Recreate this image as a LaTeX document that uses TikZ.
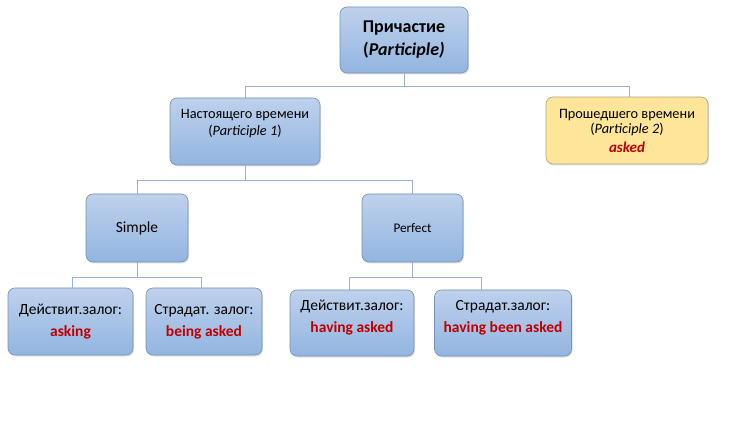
\documentclass[tikz,border=0pt]{standalone}
\usepackage{fontspec}
\setmainfont{Carlito}
\usetikzlibrary{shadows}
\definecolor{boxtop}{RGB}{190,209,236}
\definecolor{boxbot}{RGB}{146,181,224}
\definecolor{boxborder}{RGB}{118,146,180}
\definecolor{yelfill}{RGB}{255,229,153}
\definecolor{yelborder}{RGB}{175,165,130}
\definecolor{linkc}{RGB}{150,178,206}
\definecolor{redtxt}{RGB}{192,0,0}
\begin{document}
\begin{tikzpicture}[x=1pt,y=-1pt,
  box/.style={draw=boxborder, line width=0.6pt, rounded corners=7pt,
    top color=boxtop, bottom color=boxbot, align=center, inner sep=0pt,
    drop shadow={shadow xshift=1pt, shadow yshift=-1.5pt, opacity=0.25}},
  yelbox/.style={box, top color=yelfill, bottom color=yelfill, draw=yelborder},
  link/.style={draw=linkc, line width=0.8pt}]
\useasboundingbox[fill=white] (0,0) rectangle (750,422);

\node[box, minimum width=128pt, minimum height=66pt,
  font=\fontsize{18}{23}\selectfont\bfseries] (top) at (404,40)
  {Причастие\\(\textit{Participle)}};

\node[box, minimum width=150pt, minimum height=67pt,
  font=\fontsize{14.3}{17}\selectfont] (pres) at (245,131.5)
  {Настоящего времени\\(\textit{Participle 1})\\[1pt]\mbox{}};

\node[yelbox, minimum width=162pt, minimum height=67pt,
  font=\fontsize{14.3}{15}\selectfont] (past) at (627,130.5)
  {Прошедшего времени\\(\textit{Participle 2})\\[4pt]{\color{redtxt}\fontsize{15}{16}\selectfont\bfseries\itshape asked}};

\node[box, minimum width=102pt, minimum height=68pt,
  font=\fontsize{15.5}{17}\selectfont] (simple) at (137,228) {Simple};

\node[box, minimum width=101pt, minimum height=68pt,
  font=\fontsize{13.2}{15}\selectfont] (perf) at (412.5,228) {Perfect};

\node[box, minimum width=125pt, minimum height=67pt,
  font=\fontsize{15.5}{18}\selectfont] (d1) at (70.5,321.5)
  {Действит.залог:\\[4pt]{\color{redtxt}\bfseries asking}};

\node[box, minimum width=116pt, minimum height=67pt,
  font=\fontsize{15.5}{18}\selectfont] (s1) at (204,321.5)
  {Страдат. залог:\\[4pt]{\color{redtxt}\bfseries being asked}};

\node[box, minimum width=124pt, minimum height=66pt,
  font=\fontsize{15.5}{18}\selectfont] (d2) at (352,323)
  {Действит.залог:\\[4pt]{\color{redtxt}\bfseries having asked}\\[-5pt]\mbox{}};

\node[box, minimum width=137pt, minimum height=66pt,
  font=\fontsize{15.5}{18}\selectfont] (s2) at (503,323)
  {Страдат.залог:\\[4pt]{\color{redtxt}\bfseries having been asked}\\[-5pt]\mbox{}};

\draw[link] (top.south) -- ++(0,13) -| (pres.north);
\draw[link] (top.south) -- ++(0,13) -| ([xshift=2pt]past.north);
\draw[link] (pres.south) -- ++(0,15) -| (simple.north);
\draw[link] (pres.south) -- ++(0,15) -| (perf.north);
\draw[link] (simple.south) -- ++(0,15) -| ([xshift=1.5pt]d1.north);
\draw[link] (simple.south) -- ++(0,15) -| ([xshift=-3pt]s1.north);
\draw[link] (perf.south) -- ++(0,15) -| ([xshift=-3pt]d2.north);
\draw[link] (perf.south) -- ++(0,15) -| ([xshift=-22pt]s2.north);
\end{tikzpicture}
\end{document}
